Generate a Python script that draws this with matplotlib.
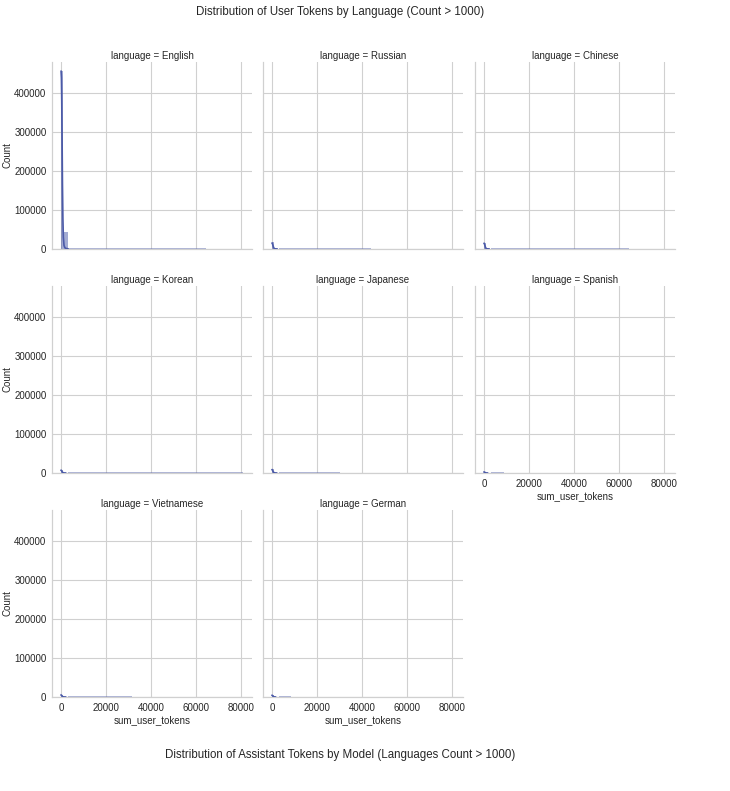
import matplotlib
matplotlib.use("Agg")
import matplotlib.pyplot as plt
import numpy as np

# ---------------- data ----------------
languages = ["English", "Russian", "Chinese", "Korean",
             "Japanese", "Spanish", "Vietnamese", "German"]

bin_width = 1000  # width of the shared histogram bins (tokens)

# counts in the first bins (starting at 0 tokens)
head_counts = [
    [458000, 45000, 44000],   # English
    [17000, 1500, 800],       # Russian
    [16000, 1800, 900],       # Chinese
    [8000, 900, 400],         # Korean
    [10000, 1000, 500],       # Japanese
    [3000, 500, 200],         # Spanish
    [6000, 700, 300],         # Vietnamese
    [5000, 600, 250],         # German
]

# long thin tail: where it ends and its (tiny) height
tail_end = [64400, 43800, 64400, 80800, 30000, 9000, 31600, 8500]
tail_count = [2200, 2200, 2200, 2200, 2200, 2200, 2200, 2200]

# kde curve points per language (tokens, count)
kde_x = [
    [0, 150, 300, 450, 600, 800, 1000, 1300, 1700, 2300, 3000],
    [0, 200, 400, 600, 900, 1300, 1700, 2200],
    [0, 200, 400, 600, 900, 1300, 1700, 2200],
    [0, 200, 400, 700, 1000, 1500, 2000],
    [0, 200, 400, 700, 1000, 1500, 2000],
    [0, 200, 400, 700, 1000, 1500],
    [0, 200, 400, 700, 1000, 1500, 2000],
    [0, 200, 400, 700, 1000, 1500],
]
kde_y = [
    [457000, 440000, 380000, 280000, 170000, 80000, 30000, 9000, 3000, 1200, 500],
    [15000, 13000, 9000, 5000, 1500, 400, 150, 80],
    [14500, 12500, 8500, 4500, 1400, 400, 150, 80],
    [7000, 6000, 4000, 1500, 500, 150, 60],
    [8500, 7000, 4500, 1700, 500, 150, 60],
    [2600, 2200, 1400, 500, 150, 50],
    [5200, 4400, 2800, 1000, 300, 100, 40],
    [4300, 3600, 2300, 800, 250, 80],
]

x_label = "sum_user_tokens"
y_label = "Count"
title_main = "Distribution of User Tokens by Language (Count > 1000)"
title_next = "Distribution of Assistant Tokens by Model (Languages Count > 1000)"

# ---------------- style ----------------
plt.rcParams['font.family'] = ['Liberation Sans', 'DejaVu Sans']
text_color = '#262626'
grid_color = '#d0d0d0'
line_color = '#4b5aa8'

W, H = 730, 791
fig = plt.figure(figsize=(W / 100, H / 100), dpi=100)

col_left = [52, 263, 475]
row_bottom = [249, 473, 697]
ax_w, ax_h = 200, 187

axes = []
ax0 = None
for i, lang in enumerate(languages):
    r, c = divmod(i, 3)
    rect = [col_left[c] / W, 1 - row_bottom[r] / H, ax_w / W, ax_h / H]
    if ax0 is None:
        ax = fig.add_axes(rect)
        ax0 = ax
    else:
        ax = fig.add_axes(rect, sharex=ax0, sharey=ax0)
    axes.append(ax)

    counts = head_counts[i]
    lefts = [k * bin_width for k in range(len(counts))]
    ax.bar(lefts, counts, width=bin_width, align='edge',
           color=line_color, alpha=0.5, linewidth=0, zorder=2)
    tail_start = len(counts) * bin_width
    ax.bar([tail_start], [tail_count[i]], width=tail_end[i] - tail_start,
           align='edge', color=line_color, alpha=0.45, linewidth=0, zorder=2)
    ax.plot(kde_x[i], kde_y[i], color=line_color, lw=1.2, zorder=3)

    ax.set_title(f"language = {lang}", fontsize=7, color=text_color, pad=2)
    ax.grid(True, color=grid_color, lw=0.8)
    ax.set_axisbelow(True)
    for s in ['top', 'right']:
        ax.spines[s].set_visible(False)
    for s in ['left', 'bottom']:
        ax.spines[s].set_color(grid_color)
        ax.spines[s].set_linewidth(0.9)
    ax.tick_params(length=0, labelsize=7, colors=text_color, pad=4)

ax0.set_xticks([0, 20000, 40000, 60000, 80000])
ax0.set_yticks([0, 100000, 200000, 300000, 400000])
ax0.margins(x=0.05, y=0.05)

for i, ax in enumerate(axes):
    r, c = divmod(i, 3)
    show_x = (r == 2) or (i == 5)
    show_y = (c == 0)
    ax.tick_params(labelbottom=show_x, labelleft=show_y)
    if show_x:
        ax.set_xlabel(x_label, fontsize=7, color=text_color, labelpad=2)
    if show_y:
        ax.set_ylabel(y_label, fontsize=7, color=text_color, labelpad=1)

fig.text(340 / W, 1 - 12 / H, title_main, ha='center', va='center',
         fontsize=8.3, color=text_color)
fig.text(340 / W, 1 - 755 / H, title_next, ha='center', va='center',
         fontsize=8.3, color=text_color)

fig.savefig("out.png", dpi=100)
